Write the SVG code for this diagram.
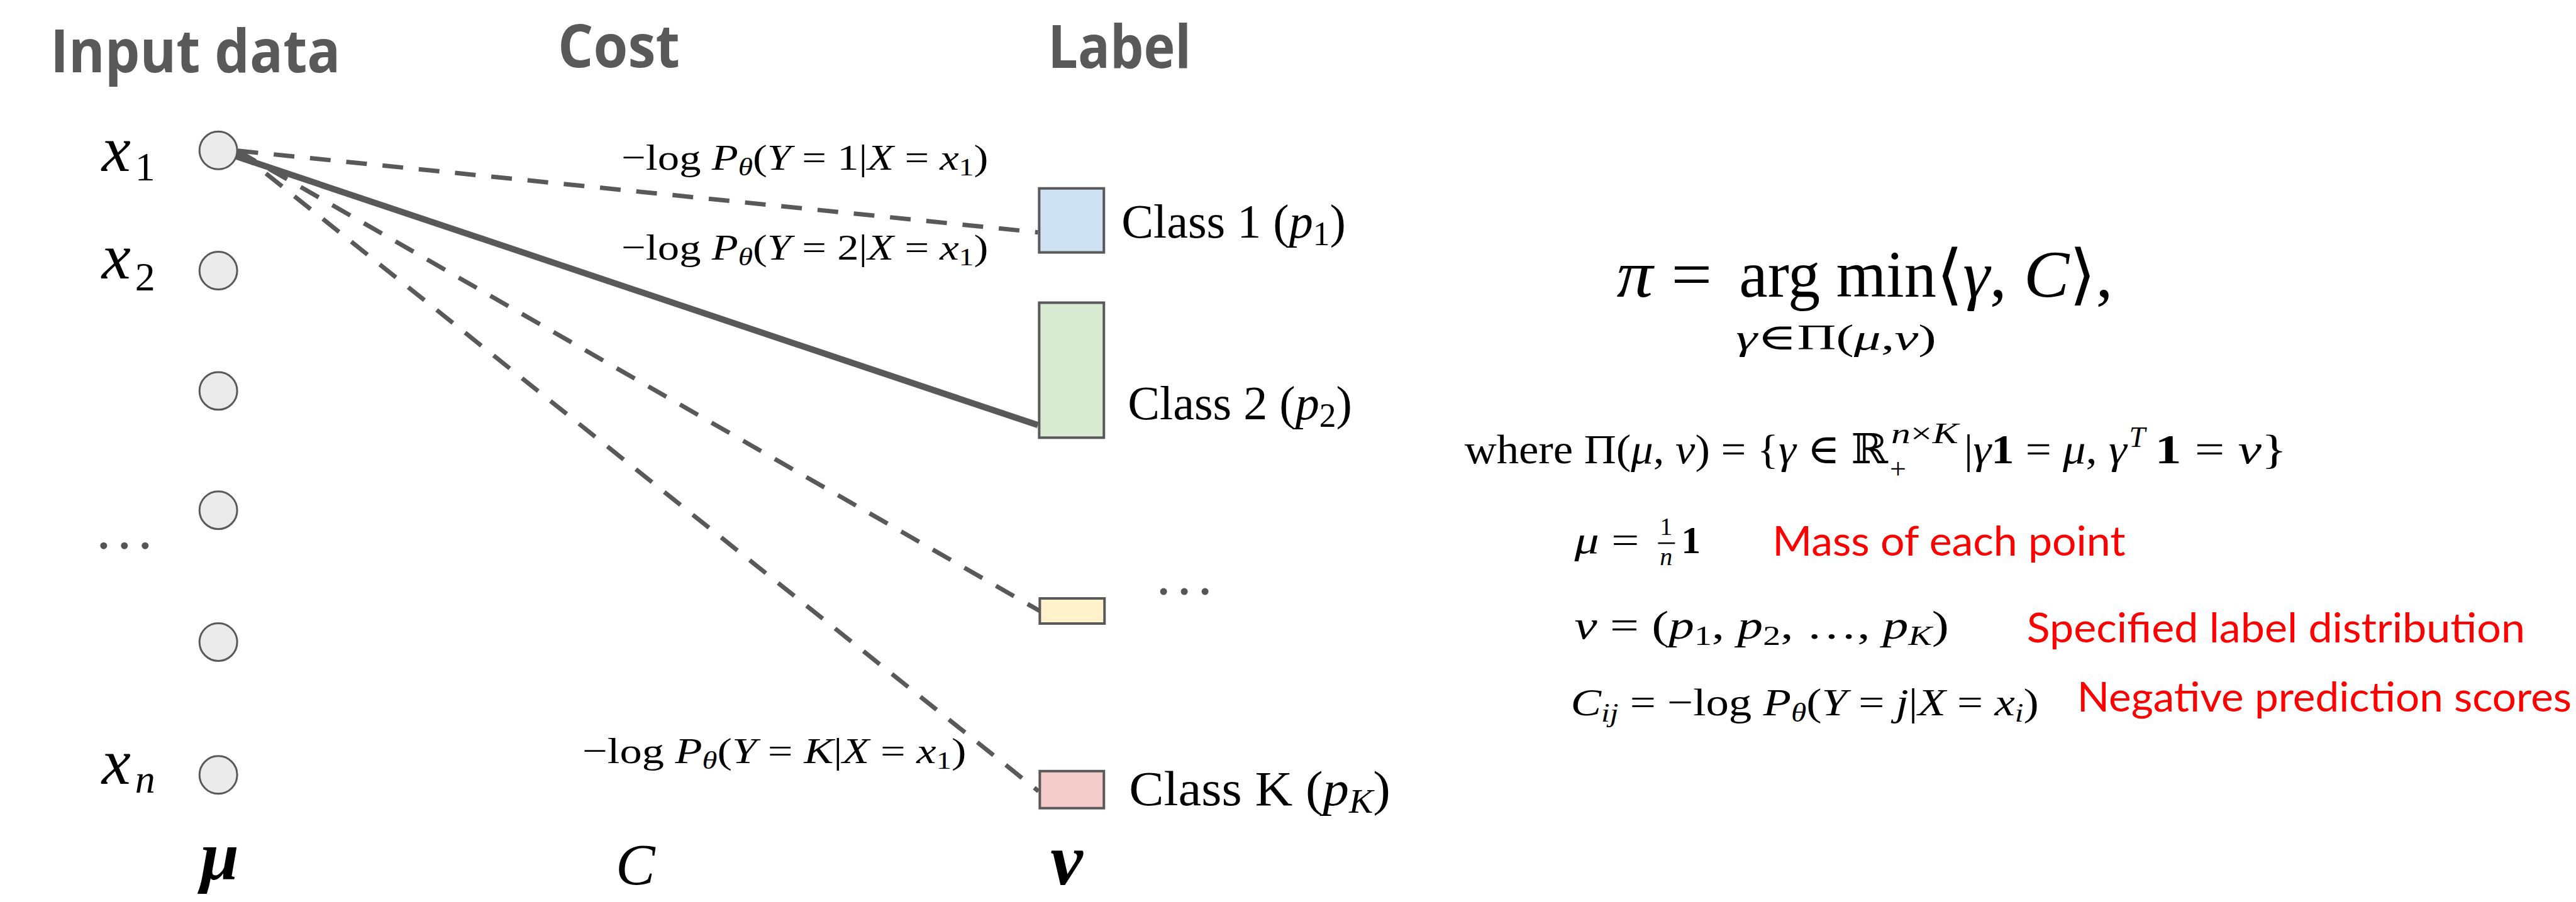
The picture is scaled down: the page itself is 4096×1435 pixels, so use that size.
<svg xmlns="http://www.w3.org/2000/svg" width="4096" height="1435" viewBox="0 0 4096 1435">
<style>
.hdr{font-family:"Open Sans",Lato,"Liberation Sans",sans-serif;font-weight:bold;fill:#595959;font-size:96px}
.m{font-family:"Liberation Serif","DejaVu Serif",serif;fill:#000}
.i{font-style:italic}
.b{font-weight:bold}
.red{font-family:Lato,"Liberation Sans",sans-serif;fill:#ff0000;font-size:66px}
.pt{fill:#ebebeb;stroke:#595959;stroke-width:3}
.box{stroke:#595959;stroke-width:4}
.dash{stroke:#595959;stroke-width:7;stroke-dasharray:33 25;fill:none}
.solid{stroke:#595959;stroke-width:10;fill:none}
.dot{fill:#555}
</style>
<rect width="4096" height="1435" fill="#fff"/>
<g transform="scale(0.999)">
<g id="headers">
<text class="hdr" x="80" y="115" textLength="462" lengthAdjust="spacingAndGlyphs">Input data</text>
<text class="hdr" x="888" y="107" textLength="194" lengthAdjust="spacingAndGlyphs">Cost</text>
<text class="hdr" x="1668" y="108" textLength="228" lengthAdjust="spacingAndGlyphs">Label</text>
</g>
<g id="connectors">
<line class="dash" x1="378" y1="240" x2="1652" y2="370"/>
<line class="solid" x1="376" y1="249" x2="1652" y2="677"/>
<line class="dash" x1="378" y1="240" x2="1655" y2="973"/>
<line class="dash" x1="378" y1="240" x2="1653" y2="1260"/>
</g>
<g id="node-x1"><circle class="pt" cx="347.5" cy="239.5" r="30"/>
<text class="m" font-size="104" x="162" y="272"><tspan class="i">x</tspan></text><text class="m" font-size="64" x="215" y="287">1</text></g>
<g id="node-x2"><circle class="pt" cx="347.5" cy="431" r="30"/>
<text class="m" font-size="104" x="162" y="443"><tspan class="i">x</tspan></text><text class="m" font-size="64" x="215" y="462">2</text></g>
<g id="node-x3"><circle class="pt" cx="347.5" cy="622.5" r="30"/></g>
<g id="node-x4"><circle class="pt" cx="347.5" cy="812.5" r="30"/></g>
<g id="dots-left"><circle class="dot" cx="165" cy="869" r="5.5"/><circle class="dot" cx="198" cy="869" r="5.5"/><circle class="dot" cx="231" cy="869" r="5.5"/></g>
<g id="node-x5"><circle class="pt" cx="347.5" cy="1022.5" r="30"/></g>
<g id="node-xn"><circle class="pt" cx="347.5" cy="1234" r="30"/>
<text class="m" font-size="104" x="162" y="1248"><tspan class="i">x</tspan></text><text class="m i" font-size="64" x="215" y="1262">n</text></g>
<g id="bottom-labels">
<text class="m i b" font-size="110" x="319" y="1400">μ</text>
<text class="m i" font-size="94" x="980" y="1408">C</text>
<text class="m i b" font-size="116" x="1672" y="1408">ν</text>
</g>
<g id="cost-labels">
<text class="m" font-size="58" x="989" y="270" textLength="584" lengthAdjust="spacingAndGlyphs">−log <tspan class="i">P</tspan><tspan class="i" font-size="40" dy="9">θ</tspan><tspan dy="-9">(</tspan><tspan class="i">Y</tspan> = 1|<tspan class="i">X</tspan> = <tspan class="i">x</tspan><tspan font-size="40" dy="9">1</tspan><tspan dy="-9">)</tspan></text>
<text class="m" font-size="58" x="989" y="413" textLength="584" lengthAdjust="spacingAndGlyphs">−log <tspan class="i">P</tspan><tspan class="i" font-size="40" dy="9">θ</tspan><tspan dy="-9">(</tspan><tspan class="i">Y</tspan> = 2|<tspan class="i">X</tspan> = <tspan class="i">x</tspan><tspan font-size="40" dy="9">1</tspan><tspan dy="-9">)</tspan></text>
<text class="m" font-size="58" x="927" y="1215" textLength="611" lengthAdjust="spacingAndGlyphs">−log <tspan class="i">P</tspan><tspan class="i" font-size="40" dy="9">θ</tspan><tspan dy="-9">(</tspan><tspan class="i">Y</tspan> = <tspan class="i">K</tspan>|<tspan class="i">X</tspan> = <tspan class="i">x</tspan><tspan font-size="40" dy="9">1</tspan><tspan dy="-9">)</tspan></text>
</g>
<g id="class-1"><rect class="box" x="1654" y="300" width="103" height="102" fill="#cfe2f3"/>
<text class="m" font-size="77" x="1785" y="378" textLength="357" lengthAdjust="spacingAndGlyphs">Class 1 (<tspan class="i">p</tspan><tspan font-size="54" dy="12">1</tspan><tspan dy="-12">)</tspan></text></g>
<g id="class-2"><rect class="box" x="1654" y="482" width="103" height="215" fill="#d9ead3"/>
<text class="m" font-size="77" x="1795" y="668" textLength="357" lengthAdjust="spacingAndGlyphs">Class 2 (<tspan class="i">p</tspan><tspan font-size="54" dy="12">2</tspan><tspan dy="-12">)</tspan></text></g>
<g id="class-3"><rect class="box" x="1655" y="953" width="103" height="40" fill="#fff2cc"/>
<circle class="dot" cx="1852" cy="942" r="5.5"/><circle class="dot" cx="1885" cy="942" r="5.5"/><circle class="dot" cx="1918" cy="942" r="5.5"/></g>
<g id="class-k"><rect class="box" x="1655" y="1228" width="102" height="59" fill="#f4cccc"/>
<text class="m" font-size="78" x="1797" y="1282" textLength="416" lengthAdjust="spacingAndGlyphs">Class K (<tspan class="i">p</tspan><tspan class="i" font-size="54" dy="12">K</tspan><tspan dy="-12">)</tspan></text></g>
<g id="formula">
<text class="m" font-size="105" x="2573" y="472" textLength="152" lengthAdjust="spacingAndGlyphs"><tspan class="i">π</tspan> =</text>
<text class="m" font-size="105" x="2768" y="472" textLength="314" lengthAdjust="spacingAndGlyphs">arg min</text>
<text class="m" font-size="105" x="3082" y="472" textLength="281" lengthAdjust="spacingAndGlyphs">⟨<tspan class="i">γ</tspan>, <tspan class="i">C</tspan>⟩,</text>
<text class="m" font-size="58" x="2763" y="557" textLength="319" lengthAdjust="spacingAndGlyphs"><tspan class="i">γ</tspan>∈Π(<tspan class="i">μ</tspan>,<tspan class="i">ν</tspan>)</text>
<text class="m" font-size="66" x="2331" y="738" textLength="674" lengthAdjust="spacingAndGlyphs">where Π(<tspan class="i">μ</tspan>, <tspan class="i">ν</tspan>) = {<tspan class="i">γ</tspan> ∈ ℝ</text>
<text class="m" font-size="46" x="3010" y="706" textLength="107" lengthAdjust="spacingAndGlyphs"><tspan class="i">n</tspan>×<tspan class="i">K</tspan></text>
<text class="m" font-size="46" x="3021" y="762" text-anchor="middle">+</text>
<text class="m" font-size="66" x="3126" y="738" textLength="259" lengthAdjust="spacingAndGlyphs">|<tspan class="i">γ</tspan><tspan class="b">1</tspan> = <tspan class="i">μ</tspan>, <tspan class="i">γ</tspan></text>
<text class="m i" font-size="46" x="3389" y="712">T</text>
<text class="m" font-size="66" x="3430" y="738" textLength="210" lengthAdjust="spacingAndGlyphs"><tspan class="b">1</tspan> = <tspan class="i">ν</tspan>}</text>
</g>
<g id="def-mu">
<text class="m" font-size="62" x="2506" y="881" textLength="103" lengthAdjust="spacingAndGlyphs"><tspan class="i">μ</tspan> =</text>
<text class="m" font-size="40" x="2652" y="852" text-anchor="middle">1</text>
<line x1="2639" y1="865" x2="2666" y2="865" stroke="#000" stroke-width="2.5"/>
<text class="m i" font-size="40" x="2652" y="900" text-anchor="middle">n</text>
<text class="m b" font-size="62" x="2676" y="881">1</text>
<text class="red" x="2821" y="885" textLength="562" lengthAdjust="spacingAndGlyphs">Mass of each point</text>
</g>
<g id="def-nu">
<text class="m" font-size="64" x="2506" y="1017" textLength="596" lengthAdjust="spacingAndGlyphs"><tspan class="i">ν</tspan> = (<tspan class="i">p</tspan><tspan font-size="44" dy="10">1</tspan><tspan dy="-10">, </tspan><tspan class="i">p</tspan><tspan font-size="44" dy="10">2</tspan><tspan dy="-10">, …, </tspan><tspan class="i">p</tspan><tspan class="i" font-size="44" dy="10">K</tspan><tspan dy="-10">)</tspan></text>
<text class="red" font-size="64" x="3226" y="1023" textLength="793" lengthAdjust="spacingAndGlyphs">Specified label distribution</text>
</g>
<g id="def-c">
<text class="m" font-size="62" x="2500" y="1139" textLength="745" lengthAdjust="spacingAndGlyphs"><tspan class="i">C</tspan><tspan class="i" font-size="42" dy="10">ij</tspan><tspan dy="-10"> = −log </tspan><tspan class="i">P</tspan><tspan class="i" font-size="42" dy="10">θ</tspan><tspan dy="-10">(</tspan><tspan class="i">Y</tspan> = <tspan class="i">j</tspan>|<tspan class="i">X</tspan> = <tspan class="i">x</tspan><tspan class="i" font-size="42" dy="10">i</tspan><tspan dy="-10">)</tspan></text>
<text class="red" font-size="64" x="3306" y="1133" textLength="787" lengthAdjust="spacingAndGlyphs">Negative prediction scores</text>
</g>
</g>
</svg>
